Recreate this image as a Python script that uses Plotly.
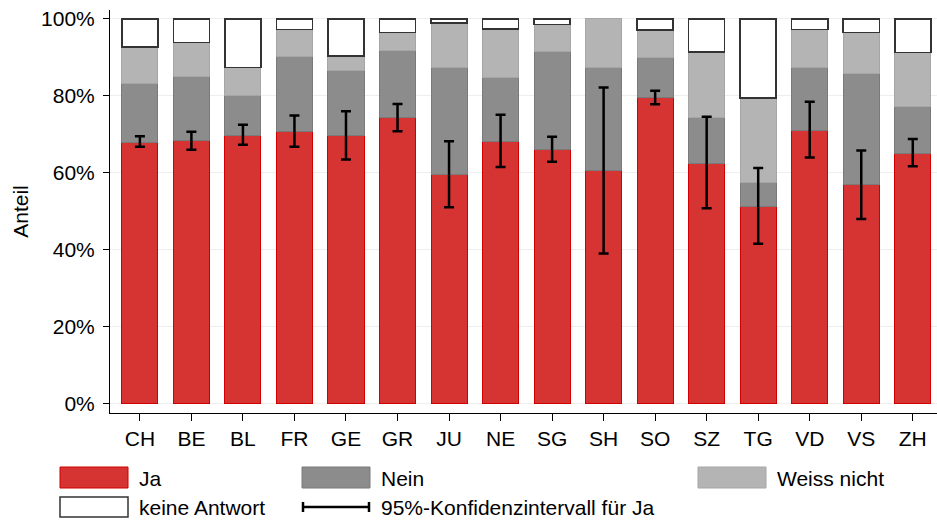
import plotly.graph_objects as go

cats = ["CH", "BE", "BL", "FR", "GE", "GR", "JU", "NE", "SG", "SH", "SO", "SZ", "TG", "VD", "VS", "ZH"]
ja = [68.0, 68.3, 69.8, 70.8, 69.8, 74.3, 59.6, 68.2, 66.0, 60.7, 79.5, 62.5, 51.3, 71.1, 56.9, 65.1]
nein = [15.1, 16.7, 10.4, 19.3, 16.8, 17.4, 27.8, 16.7, 25.4, 26.7, 10.4, 11.8, 6.3, 16.2, 28.9, 12.2]
weiss = [9.6, 8.8, 7.2, 7.1, 3.8, 4.7, 11.5, 12.5, 7.1, 12.6, 7.2, 17.1, 21.8, 10.0, 10.6, 14.0]
keine = [7.3, 6.2, 12.6, 2.8, 9.6, 3.6, 1.1, 2.6, 1.5, None, 2.9, 8.6, 20.6, 2.7, 3.6, 8.7]
ci_low = [66.8, 66.0, 67.3, 66.8, 63.5, 70.8, 51.1, 61.5, 62.9, 39.1, 77.8, 50.8, 41.6, 64.0, 48.0, 61.7]
ci_high = [69.5, 70.7, 72.5, 74.9, 76.0, 77.9, 68.2, 75.1, 69.4, 82.2, 81.3, 74.6, 61.3, 78.5, 65.8, 68.8]
y_ticks = [0, 20, 40, 60, 80, 100]
y_tick_labels = ["0%", "20%", "40%", "60%", "80%", "100%"]

RED = "#D63333"
RED_LINE = "#D00000"
NEIN = "#8C8C8C"
NEIN_LINE = "#7A7A7A"
WEISS = "#B4B4B4"
WEISS_LINE = "#A6A6A6"
KEINE_LINE = "#333333"
FONT = "Liberation Sans"
FS = 21

fig = go.Figure()
fig.add_bar(x=cats, y=ja, name="Ja", marker=dict(color=RED, line=dict(color=RED_LINE, width=1)))
fig.add_bar(x=cats, y=nein, name="Nein", marker=dict(color=NEIN, line=dict(color=NEIN_LINE, width=1)))
fig.add_bar(x=cats, y=weiss, name="Weiss nicht", marker=dict(color=WEISS, line=dict(color=WEISS_LINE, width=1)))
fig.add_bar(x=cats, y=keine, name="keine Antwort", marker=dict(color="white", line=dict(color=KEINE_LINE, width=1.5)))

err_plus = [h - j for h, j in zip(ci_high, ja)]
err_minus = [j - l for j, l in zip(ja, ci_low)]
fig.add_scatter(
    x=cats, y=ja, mode="markers", marker=dict(size=1, opacity=0),
    error_y=dict(type="data", symmetric=False, array=err_plus, arrayminus=err_minus,
                 color="black", thickness=2.5, width=5),
    name="95%-Konfidenzintervall für Ja", hoverinfo="skip",
)

W, H = 937, 521
L, R, T, B = 110, 0, 10, 108
pw, ph = W - L - R, H - T - B


def px(xp):
    return (xp - L) / pw


def py(yp):
    return (H - B - yp) / ph


# Custom legend (pixel layout converted to paper coordinates)
legend_items = [
    ("Ja", 60, 467, 488, RED, RED_LINE, 1),
    ("Nein", 302, 467, 488, NEIN, NEIN_LINE, 1),
    ("Weiss nicht", 698, 467, 488, WEISS, WEISS_LINE, 1),
    ("keine Antwort", 60, 497, 517, "white", KEINE_LINE, 1.5),
]
shapes = []
annotations = []
for label, x0, y0, y1, fill, line, lw in legend_items:
    shapes.append(dict(type="rect", xref="paper", yref="paper",
                       x0=px(x0), x1=px(x0 + 68), y0=py(y1), y1=py(y0),
                       fillcolor=fill, line=dict(color=line, width=lw)))
    annotations.append(dict(text=label, xref="paper", yref="paper", x=px(x0 + 77), y=py((y0 + y1) / 2 + 1),
                            xanchor="left", yanchor="middle", showarrow=False,
                            font=dict(family=FONT, size=FS, color="black")))
# CI legend symbol
cy = 507
shapes.append(dict(type="line", xref="paper", yref="paper", x0=px(302), x1=px(370), y0=py(cy), y1=py(cy),
                   line=dict(color="black", width=2.5)))
for xe in (303, 369):
    shapes.append(dict(type="line", xref="paper", yref="paper", x0=px(xe), x1=px(xe), y0=py(cy - 5), y1=py(cy + 5),
                       line=dict(color="black", width=2.5)))
annotations.append(dict(text="95%-Konfidenzintervall für Ja", xref="paper", yref="paper", x=px(379), y=py(cy + 1),
                        xanchor="left", yanchor="middle", showarrow=False,
                        font=dict(family=FONT, size=FS, color="black")))

fig.update_layout(
    width=W, height=H,
    margin=dict(l=L, r=R, t=T, b=B),
    barmode="stack", bargap=0.3,
    plot_bgcolor="white", paper_bgcolor="white",
    showlegend=False,
    font=dict(family=FONT, size=FS, color="black"),
    shapes=shapes, annotations=annotations,
)
fig.update_xaxes(
    range=[-0.58, 15.47], showline=True, linecolor="black", linewidth=1,
    ticks="outside", ticklen=7, tickcolor="black", showgrid=False,
    tickfont=dict(family=FONT, size=FS),
)
fig.update_yaxes(
    range=[-2.35, 102.3], tickmode="array", tickvals=y_ticks, ticktext=y_tick_labels,
    showline=True, linecolor="black", linewidth=1,
    ticks="outside", ticklen=6, tickcolor="black",
    showgrid=True, gridcolor="#EEEEEE", gridwidth=1, zeroline=False,
    ticklabelstandoff=4,
    title=dict(text="Anteil", standoff=6, font=dict(family=FONT, size=FS)),
    tickfont=dict(family=FONT, size=FS),
)

fig.write_html(
    "out.html",
    config={"displayModeBar": False},
    post_script="document.body.style.margin='0px';document.body.style.overflow='hidden';",
)
